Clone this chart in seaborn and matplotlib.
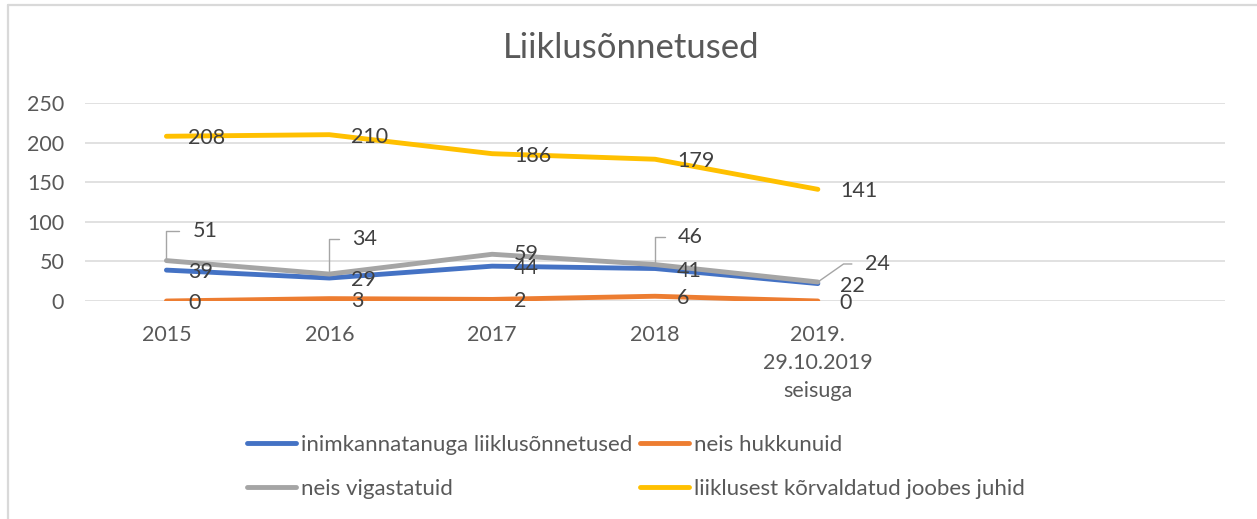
import matplotlib
matplotlib.use("Agg")
import matplotlib.pyplot as plt
import seaborn as sns
import pandas as pd
from matplotlib.lines import Line2D

# ---- data ----
categories = ["2015", "2016", "2017", "2018", "2019.\n29.10.2019\nseisuga"]
series_names = ["inimkannatanuga liiklusõnnetused", "neis hukkunuid",
                "neis vigastatuid", "liiklusest kõrvaldatud joobes juhid"]
injury_accidents = [39, 29, 44, 41, 22]
killed = [0, 3, 2, 6, 0]
injured = [51, 34, 59, 46, 24]
drunk_drivers = [208, 210, 186, 179, 141]
title = "Liiklusõnnetused"

colors = ["#4472C4", "#ED7D31", "#A5A5A5", "#FFC000"]
values = [injury_accidents, killed, injured, drunk_drivers]

rows = []
for name, vals in zip(series_names, values):
    for i, v in enumerate(vals):
        rows.append({"pos": i, "value": v, "series": name})
df = pd.DataFrame(rows)

sns.set_theme(style="white")
plt.rcParams["font.family"] = ["Lato", "DejaVu Sans"]

W, H = 1257, 519
fig = plt.figure(figsize=(W / 100, H / 100), dpi=100)
ax = fig.add_axes([85 / W, 1 - 301 / H, (1225 - 85) / W, (301 - 103) / H])

LW = 3.5
for name, col in zip(series_names, colors):
    sub = df[df["series"] == name]
    sns.lineplot(data=sub, x="pos", y="value", color=col, linewidth=LW,
                 ax=ax, sort=False, solid_capstyle="round",
                 solid_joinstyle="round", legend=False)

ax.set_xlim(-0.5, 6.5)
ax.set_ylim(0, 250)
ax.set_yticks([0, 50, 100, 150, 200, 250])
ax.set_xticks(range(len(categories)))
ax.set_xticklabels(categories, linespacing=1.5)
ax.grid(axis="y", color="#D9D9D9", linewidth=1.1)
ax.set_axisbelow(True)
for s in ax.spines.values():
    s.set_visible(False)
ax.set_xlabel("")
ax.set_ylabel("")
ax.tick_params(axis="both", length=0, labelsize=15.5, colors="#595959")
ax.tick_params(axis="y", pad=15)
ax.tick_params(axis="x", pad=17)

FS = 15.5
label_color = "#404040"
# default label placement (pixels)
for k, vals in enumerate(values):
    if k == 2:
        continue
    for i, v in enumerate(vals):
        ax.annotate(str(v), xy=(i, v), xytext=(22, -2), textcoords="offset pixels",
                    ha="left", va="center", fontsize=FS, color=label_color)

# injured labels with leader lines: (dx, dy, angleB)
gray_offsets = [(26, 30, 90), (23, 35, 90), (22, 0, None), (23, 28, 90), (47, 18, 35)]
for i, v in enumerate(injured):
    dx, dy, ang = gray_offsets[i]
    if ang is None:
        ax.annotate(str(v), xy=(i, v), xytext=(dx, dy), textcoords="offset pixels",
                    ha="left", va="center", fontsize=FS, color=label_color)
    else:
        ax.annotate(str(v), xy=(i, v), xytext=(dx, dy), textcoords="offset pixels",
                    ha="left", va="center", fontsize=FS, color=label_color,
                    arrowprops=dict(arrowstyle="-", color="#A5A5A5", lw=1.0,
                                    shrinkA=7, shrinkB=0,
                                    relpos=(0, 0.5),
                                    connectionstyle=f"angle,angleA=180,angleB={ang},rad=0"))

fig.text(0.502, 1 - 48 / H, title, ha="center", va="center", fontsize=25,
         color="#595959")

handles = [Line2D([], [], color=c, linewidth=LW, solid_capstyle="round") for c in colors]
order = [0, 2, 1, 3]
leg = fig.legend([handles[i] for i in order], [series_names[i] for i in order],
                 ncol=2, loc="center", bbox_to_anchor=(0.506, 1 - 467 / H),
                 frameon=False, fontsize=16, handlelength=2.2, handletextpad=0.22,
                 columnspacing=0.35, labelspacing=1.1)
for t in leg.get_texts():
    t.set_color("#595959")

# chart border (top and left visible)
fig.add_artist(Line2D([8 / W, 1], [1 - 5 / H, 1 - 5 / H], transform=fig.transFigure,
                      color="#D9D9D9", linewidth=1.6))
fig.add_artist(Line2D([8 / W, 8 / W], [0, 1 - 5 / H], transform=fig.transFigure,
                      color="#D9D9D9", linewidth=1.6))

fig.savefig("out.png", dpi=100, facecolor="white")
